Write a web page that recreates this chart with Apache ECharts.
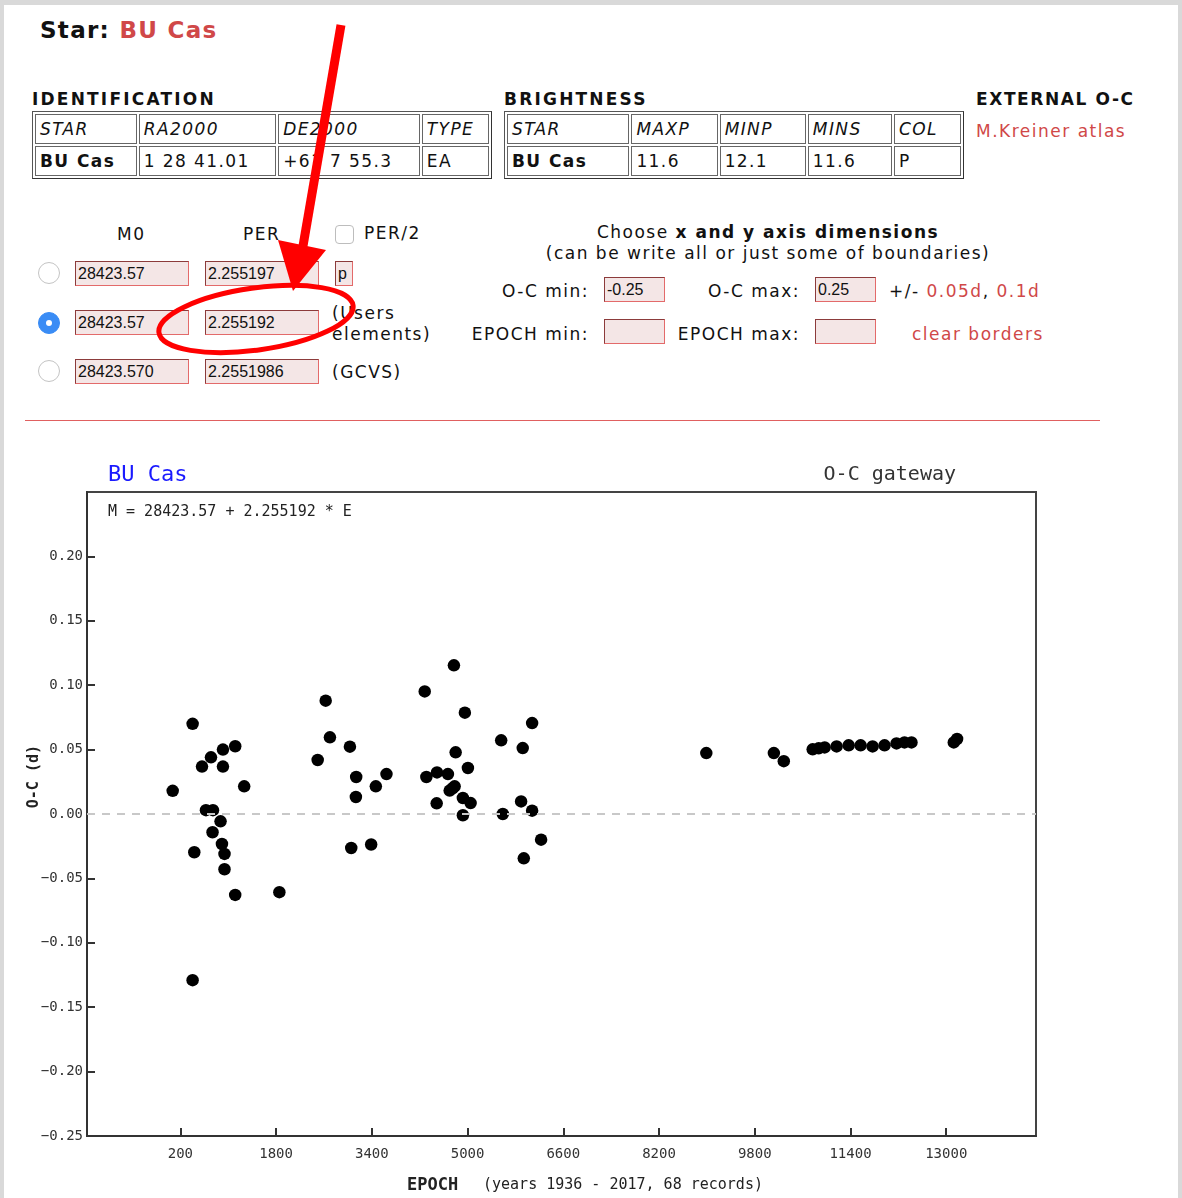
<!DOCTYPE html>
<html>
<head>
<meta charset="utf-8">
<script src="https://cdn.jsdelivr.net/npm/echarts@6/dist/echarts.min.js"></script>
<style>
  html, body { margin:0; padding:0; }
  body { width:1182px; height:1198px; background:#d9d9d9; position:relative; overflow:hidden;
         font-family:"DejaVu Sans", Verdana, sans-serif; color:#111; }
  #page { position:absolute; left:4px; top:5px; width:1174px; height:1193px; background:#fff; }
  .abs { position:absolute; white-space:nowrap; font-size:17px; line-height:20px; letter-spacing:1.5px; }
  .red { color:#d04848; }
  .hdr { font-weight:bold; letter-spacing:2.2px; }
  table.t { position:absolute; border-collapse:separate; border-spacing:2px; border:1px solid #555;
            border-right-color:#333; border-bottom-color:#333; table-layout:fixed; }
  table.t td { border:1px solid #666; height:28px; padding:0 0 0 4px; font-size:17px; line-height:20px;
               white-space:nowrap; overflow:hidden; letter-spacing:1.4px; }
  table.t tr.h td { font-style:italic; }
  .box { position:absolute; height:23px; background:#f4e6e6; border:1px solid #e36a6a;
         border-top-color:#8c3b3b; border-left-color:#8c3b3b; font-family:"Liberation Sans", Arial, sans-serif;
         font-size:16px; line-height:23px; padding-left:2px; color:#111; box-sizing:content-box; letter-spacing:0; }
  .radio { position:absolute; width:20px; height:20px; border-radius:50%; border:1px solid #c4c4c4; background:#fff; }
  .radio.on { background:#3a8cf5; border-color:#3a8cf5; }
  .radio.on::after { content:""; position:absolute; left:7px; top:7px; width:6px; height:6px; border-radius:50%; background:#fff; }
  .chk { position:absolute; width:17px; height:17px; border-radius:4px; border:1px solid #bdbdbd; background:#fff; }
  #chart { position:absolute; left:0; top:440px; width:1182px; height:758px; }
  #ann { position:absolute; left:0; top:0; width:1182px; height:1198px; pointer-events:none; }
</style>
</head>
<body>
<div id="page"></div>

<div class="abs" style="left:40px;top:16px;font-size:23px;line-height:28px;font-weight:bold;letter-spacing:1.3px;">Star: <span class="red">BU Cas</span></div>

<div class="abs hdr" style="left:32px;top:89px;">IDENTIFICATION</div>
<table class="t" style="left:32px;top:111px;width:460px;">
  <colgroup><col style="width:97px"><col style="width:131px"><col style="width:135px"><col style="width:64px"></colgroup>
  <tr class="h"><td>STAR</td><td>RA2000</td><td>DE2000</td><td>TYPE</td></tr>
  <tr><td style="font-weight:bold">BU Cas</td><td>1 28 41.01</td><td>+61 7 55.3</td><td>EA</td></tr>
</table>

<div class="abs hdr" style="left:504px;top:89px;">BRIGHTNESS</div>
<table class="t" style="left:504px;top:111px;width:460px;">
  <colgroup><col style="width:115px"><col style="width:81px"><col style="width:81px"><col style="width:79px"><col style="width:63px"></colgroup>
  <tr class="h"><td>STAR</td><td>MAXP</td><td>MINP</td><td>MINS</td><td>COL</td></tr>
  <tr><td style="font-weight:bold">BU Cas</td><td>11.6</td><td>12.1</td><td>11.6</td><td>P</td></tr>
</table>

<div class="abs hdr" style="left:976px;top:89px;letter-spacing:1.6px;">EXTERNAL O-C</div>
<div class="abs red" style="left:976px;top:121px;">M.Kreiner atlas</div>

<div class="abs" style="left:117px;top:224px;">M0</div>
<div class="abs" style="left:243px;top:224px;">PER</div>
<div class="chk" style="left:335px;top:225px;"></div>
<div class="abs" style="left:364px;top:223px;">PER/2</div>

<div class="radio" style="left:38px;top:262px;"></div>
<div class="box" style="left:75px;top:261px;width:110px;">28423.57</div>
<div class="box" style="left:205px;top:261px;width:110px;">2.255197</div>
<div class="box" style="left:335px;top:261px;width:14px;">p</div>

<div class="radio on" style="left:38px;top:312px;"></div>
<div class="box" style="left:75px;top:310px;width:110px;">28423.57</div>
<div class="box" style="left:205px;top:310px;width:110px;">2.255192</div>
<div class="abs" style="left:332px;top:303px;line-height:21px;">(Users<br>elements)</div>

<div class="radio" style="left:38px;top:360px;"></div>
<div class="box" style="left:75px;top:359px;width:110px;">28423.570</div>
<div class="box" style="left:205px;top:359px;width:110px;">2.2551986</div>
<div class="abs" style="left:332px;top:362px;">(GCVS)</div>

<div class="abs" style="left:468px;top:222px;width:600px;text-align:center;">Choose <b>x and y axis dimensions</b></div>
<div class="abs" style="left:468px;top:243px;width:600px;text-align:center;">(can be write all or just some of boundaries)</div>

<div class="abs" style="left:400px;top:281px;width:189px;text-align:right;">O-C min:</div>
<div class="box" style="left:604px;top:277px;width:57px;">-0.25</div>
<div class="abs" style="left:600px;top:281px;width:200px;text-align:right;">O-C max:</div>
<div class="box" style="left:815px;top:277px;width:57px;">0.25</div>
<div class="abs" style="left:889px;top:281px;">+/- <span class="red">0.05d</span>, <span class="red">0.1d</span></div>

<div class="abs" style="left:400px;top:324px;width:189px;text-align:right;">EPOCH min:</div>
<div class="box" style="left:604px;top:319px;width:57px;"></div>
<div class="abs" style="left:600px;top:324px;width:200px;text-align:right;">EPOCH max:</div>
<div class="box" style="left:815px;top:319px;width:57px;"></div>
<div class="abs red" style="left:912px;top:324px;">clear borders</div>

<div style="position:absolute;left:25px;top:420px;width:1075px;height:1px;background:#e06060;"></div>

<div id="chart"></div>

<svg id="ann" xmlns="http://www.w3.org/2000/svg">
  <line x1="341" y1="25" x2="303" y2="246" stroke="#ff0000" stroke-width="9"/>
  <polygon points="278,240 326,250 293,291" fill="#ff0000"/>
  <ellipse cx="256" cy="319" rx="98" ry="31" transform="rotate(-8 256 319)" fill="none" stroke="#ff0000" stroke-width="5"/>
</svg>

<script>
// ---- data ----
const epochs = [
  405, 912, 1117, 712, 562, 912, 72, 1267, 628, 745, 872, 738, 895, 938, 433, 938, 1117, 1855, 405,
  2629, 2700, 3034, 2495, 3139, 3467, 3645, 3134, 3056, 3389, 4284, 4312, 4489, 4484,
  4772, 4955, 6079, 5562, 5922, 4801, 5006, 4672, 4784, 4701, 4751, 4922, 5051, 4922, 5589, 5895, 6079, 6229, 5940,
  8990, 10119, 10285,
  10768, 10868, 10968, 11168, 11369, 11569, 11769, 11969, 12169, 12302, 12419,
  13126, 13181
];
const ocValues = [
  0.070, 0.050, 0.0526, 0.044, 0.0368, 0.0368, 0.018, 0.0215, 0.003, 0.003, -0.0057, -0.0142, -0.0233, -0.031, -0.0297, -0.0429, -0.0628, -0.0607, -0.129,
  0.088, 0.0595, 0.0523, 0.0419, 0.0287, 0.0215, 0.031, 0.0132, -0.0264, -0.0237, 0.0952, 0.0287, 0.0323, 0.0083,
  0.1154, 0.0787, 0.0706, 0.0572, 0.0512, 0.0479, 0.0357, 0.031, 0.0215, 0.0182, 0.020, 0.0124, 0.0085, -0.001, 0.0, 0.0098, 0.0026, -0.0199, -0.0344,
  0.0473, 0.0473, 0.041,
  0.0502, 0.051, 0.0517, 0.0525, 0.0533, 0.0533, 0.0525, 0.0533, 0.0548, 0.0556, 0.0556,
  0.0556, 0.0582
];
const xTickValues = [200, 1800, 3400, 5000, 6600, 8200, 9800, 11400, 13000];
const starName = 'BU Cas';
const elementsText = 'M = 28423.57 + 2.255192 * E';
const rangeText = '(years 1936 - 2017, 68 records)';

const points = epochs.map((e, i) => [e, ocValues[i]]);
const mono = '"DejaVu Sans Mono", monospace';

const chart = echarts.init(document.getElementById('chart'), null, { renderer: 'canvas' });
chart.setOption({
  animation: false,
  backgroundColor: 'transparent',
  grid: { left: 87, top: 52, width: 949, height: 644, show: true, borderColor: '#444', borderWidth: 2, backgroundColor: '#fff' },
  xAxis: {
    type: 'value', min: -1360, max: 14500,
    axisLine: { show: true, onZero: false, lineStyle: { color: '#333', width: 2 } },
    axisTick: { show: true, inside: true, length: 8, customValues: xTickValues, lineStyle: { color: '#333', width: 2 } },
    axisLabel: { customValues: xTickValues, color: '#333', fontFamily: mono, fontSize: 14, margin: 11,
                 formatter: v => String(Math.round(v)) },
    splitLine: { show: false }
  },
  yAxis: {
    type: 'value', min: -0.25, max: 0.25, interval: 0.05,
    axisLine: { show: true, onZero: false, lineStyle: { color: '#333', width: 2 } },
    axisTick: { show: true, inside: true, length: 8, lineStyle: { color: '#333', width: 2 } },
    axisLabel: {
      color: '#333', fontFamily: mono, fontSize: 14, margin: 4, showMaxLabel: false,
      formatter: v => (Math.abs(v - 0.25) < 1e-9 ? '' : (v < -1e-9 ? '\u2212' + Math.abs(v).toFixed(2) : Math.abs(v).toFixed(2)))
    },
    splitLine: { show: false }
  },
  series: [
    {
      type: 'line', data: [], z: 1, silent: true,
      markLine: {
        silent: true, symbol: ['none', 'none'], label: { show: false },
        lineStyle: { color: '#c8c8c8', type: [8, 7], width: 2 },
        data: [{ yAxis: 0 }]
      }
    },
    {
      type: 'scatter', data: points, z: 3, symbol: 'circle', symbolSize: 12.5,
      itemStyle: { color: '#000', opacity: 1 }
    }
  ],
  graphic: [
    { type: 'text', left: 108, top: 24, style: { text: starName, fill: '#1a1aff', font: '22px ' + mono } },
    { type: 'text', right: 226, top: 25, style: { text: 'O-C gateway', fill: '#333', font: '20px ' + mono } },
    { type: 'text', left: 108, top: 65, style: { text: elementsText, fill: '#222', font: '15px ' + mono } },
    { type: 'text', left: 27, top: 305, rotation: Math.PI / 2, originX: 0, originY: 0,
      style: { text: 'O-C (d)', fill: '#222', font: 'bold 15px ' + mono, x: 0, y: 0 } },
    { type: 'text', left: 407, top: 737, style: { text: 'EPOCH', fill: '#222', font: 'bold 17px ' + mono } },
    { type: 'text', left: 483, top: 738, style: { text: rangeText, fill: '#222', font: '15px ' + mono } }
  ]
});
</script>
</body>
</html>
